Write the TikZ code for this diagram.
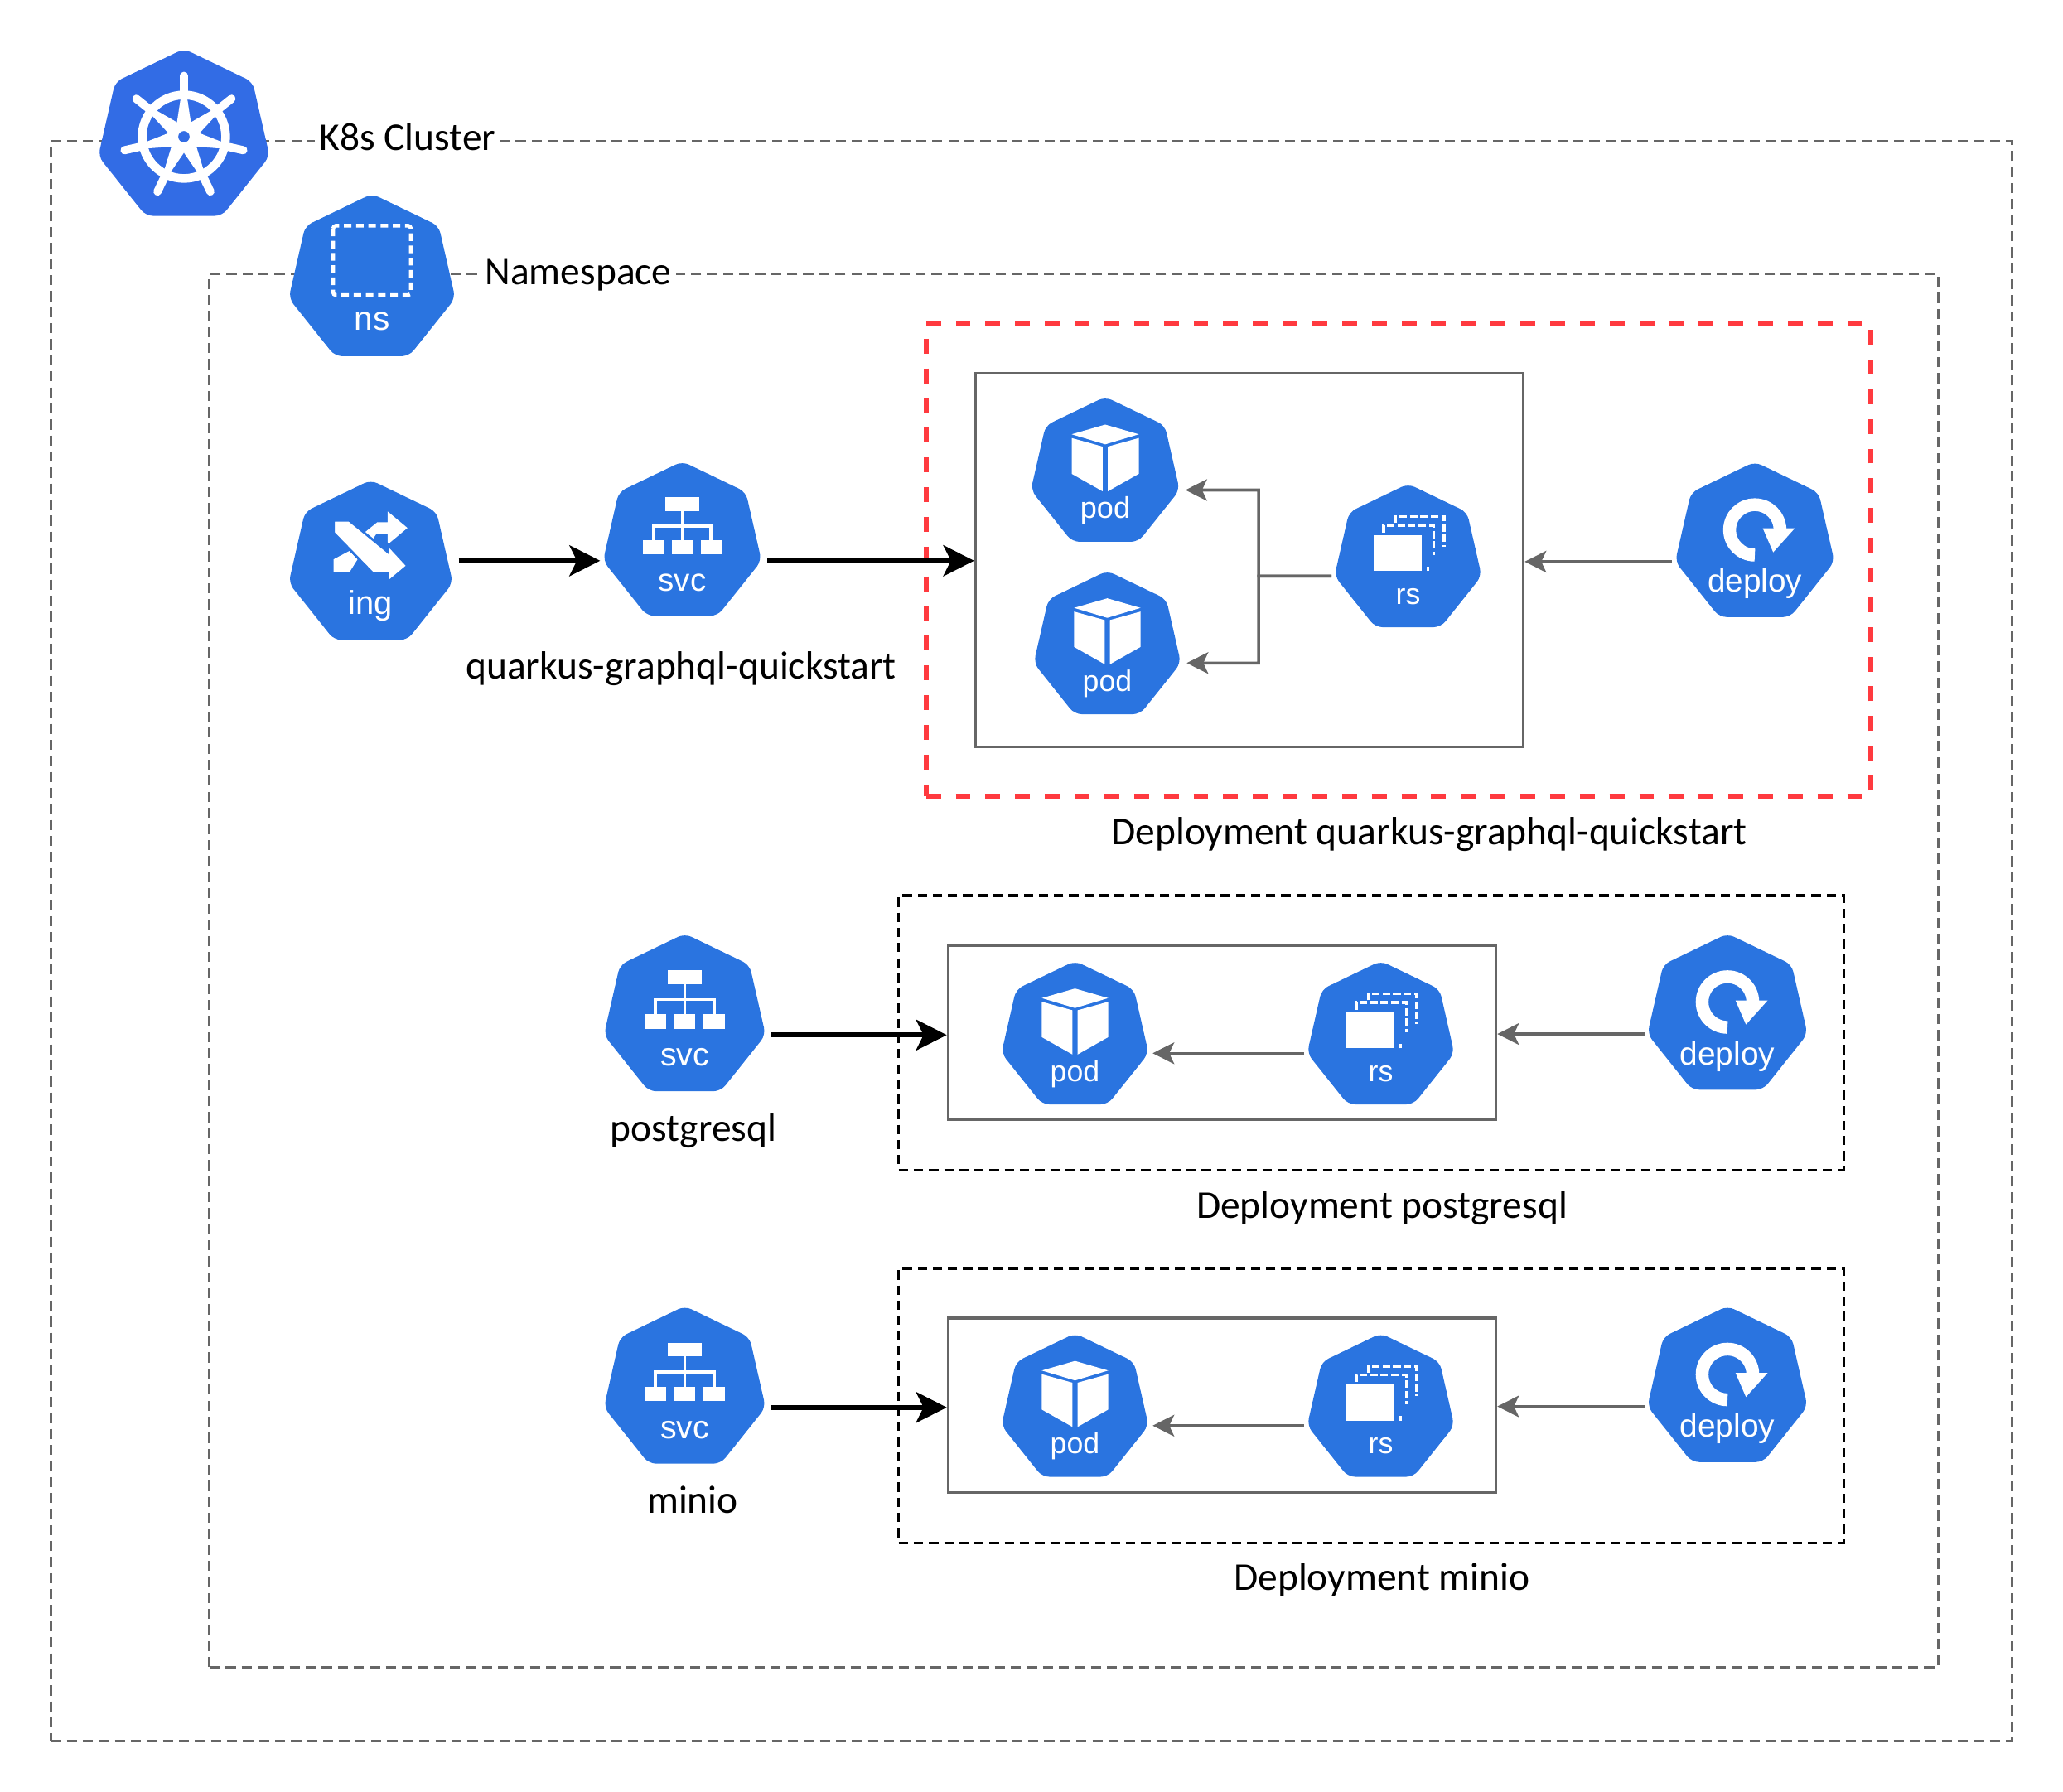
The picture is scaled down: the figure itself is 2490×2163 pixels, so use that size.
\documentclass[tikz,border=0pt]{standalone}
\usepackage{fontspec}
\setmainfont{Carlito}
\newfontfamily\iconfont{Liberation Sans}
\usetikzlibrary{arrows.meta,calc,shapes.geometric}
\definecolor{KubeBlue}{HTML}{2A74E0}
\definecolor{ClusterBlue}{HTML}{326CE5}
\definecolor{LineGray}{HTML}{666666}
\definecolor{AlertRed}{HTML}{FF3A3F}
\newcommand{\kubeicon}[5]{%
  \node[kube,minimum size=(#3+2)*0.02cm] (#1) at (#2) {};
  \pic[scale=#3/100] at (#1.center) {#4};
  \node[kubetext,scale=#3/100] (#1text) at ($(#1.center)+(0,0.61*#3)$) {#5};
}
\tikzset{
  kube/.style={regular polygon,regular polygon sides=7,fill=KubeBlue,inner sep=0pt,outer sep=0pt,rounded corners=2.5pt},
  kubetext/.style={transform shape,text=white,anchor=base,inner sep=0pt,font=\iconfont\fontsize{11.4}{13}\selectfont},
  handtext/.style={anchor=base,inner sep=1.5pt,font=\fontsize{13.5}{15}\selectfont},
  zone/.style={draw=LineGray,line width=0.8pt,dash pattern=on 3.5pt off 2pt,inner sep=0pt},
  deploybox/.style={draw=black,line width=0.9pt,dash pattern=on 3.2pt off 2pt,inner sep=0pt},
  redbox/.style={draw=AlertRed,line width=1.7pt,dash pattern=on 5.1pt off 5.1pt,inner sep=0pt},
  podbox/.style={draw=LineGray,line width=0.9pt,inner sep=0pt},
  bigarrow/.style={-{Stealth[length=3.7mm,width=3.7mm,inset=0.9mm]},line width=1.8pt,black},
  grayarrow/.style={-{Stealth[length=2.6mm,width=2.6mm,inset=0.6mm]},line width=1pt,LineGray,shorten <=1pt},
  wheelglyph/.pic={
    \draw[white,line width=3pt] (0,0) circle[radius=48];
    \foreach \a in {90,141.43,...,400}{
      \begin{scope}[rotate=\a]
        \fill[white] (10,-9) -- (46,-3.5) -- (46,3.5) -- (10,9) -- cycle;
        \draw[white,line width=2.8pt,line cap=round] (46,0) -- (70,0);
      \end{scope}
    }
    \fill[white] (0,0) circle[radius=16];
    \fill[ClusterBlue] (0,0) circle[radius=6.5];
  },
  nsglyph/.pic={
    \draw[white,line width=1.3pt,dash pattern=on 2.6pt off 1.6pt,rounded corners=1pt] (-46.5,-64) rectangle (46.5,19);
  },
  ingglyph/.pic={
    \fill[white] (20.5,-64) -- (44.5,-44) -- (20.5,-24) -- (20.5,-37) -- (7,-37) -- (0,-27) -- (-8,-38) -- (8,-51) -- (20.5,-51) -- cycle;
    \fill[white] (-45,-6) -- (-26,-16) -- (-16,-6) -- (-26,10) -- (-45,10) -- cycle;
    \filldraw[fill=white,draw=KubeBlue,line width=0.8pt] (-45,-53) -- (-26,-53) -- (20.5,-15) -- (20.5,-24) -- (44.5,2) -- (20.5,22) -- (20.5,11) -- (2.5,11) -- (-45,-38) -- cycle;
  },
  svcglyph/.pic={
    \fill[white] (-21,-57) rectangle (21,-40);
    \fill[white] (-49,-3) rectangle (-22.5,15);
    \fill[white] (-13,-3) rectangle (13,15);
    \fill[white] (23,-3) rectangle (49,15);
    \draw[white,line width=1pt] (0,-40) -- (0,-3) (-36,-3) -- (-36,-21) -- (36,-21) -- (36,-3);
  },
  podglyph/.pic={
    \fill[white] (0,-65) -- (-45,-52) -- (0,-38.5) -- (45,-52) -- cycle;
    \fill[white] (-45,-47) -- (-3.5,-35.5) -- (-3.5,24.5) -- (-45,1) -- cycle;
    \fill[white] (45,-47) -- (3.5,-35.5) -- (3.5,24.5) -- (45,1) -- cycle;
  },
  rsglyph/.pic={
    \fill[white] (-47,-33) rectangle (19,16);
    \draw[white,line width=1pt,dash pattern=on 2.6pt off 1pt] (-33,-36) -- (-33,-46) -- (35,-46) -- (35,-6) (27,16) -- (27,10);
    \draw[white,line width=1pt,dash pattern=on 2.6pt off 1pt] (-17,-49) -- (-17,-58) -- (49,-58) -- (49,-17);
  },
  deployglyph/.pic={
    \draw[white,line width=4.4pt] (0,14.5) arc[start angle=-90,end angle=-360,radius=0.315cm];
    \fill[white] (10,-19) -- (50,-19) -- (23,11) -- cycle;
  }
}
\begin{document}
\begin{tikzpicture}[x=0.01cm,y=-0.01cm]
\useasboundingbox (0,0) rectangle (2490,2163);
\node[zone,minimum width=23.66cm,minimum height=19.30cm] (cluster) at (1245,1136) {};
\node[zone,minimum width=20.85cm,minimum height=16.81cm] (namespace) at (1296,1171.5) {};
\node[redbox,minimum width=11.40cm,minimum height=5.70cm] (deployA) at (1688,676) {};
\node[deploybox,minimum width=11.40cm,minimum height=3.31cm] (deployB) at (1655,1246.5) {};
\node[deploybox,minimum width=11.40cm,minimum height=3.31cm] (deployC) at (1655,1696.5) {};
\node[podbox,minimum width=6.61cm,minimum height=4.50cm] (boxA) at (1508,676) {};
\node[podbox,minimum width=6.61cm,minimum height=2.10cm] (boxB) at (1475,1246) {};
\node[podbox,minimum width=6.61cm,minimum height=2.10cm] (boxC) at (1475,1696) {};
\node[handtext,fill=white] (clusterlabel) at (492,181) {K8s Cluster};
\node[handtext,fill=white] (nslabel) at (698,343) {Namespace};
\node[kube,minimum size=2.12cm,fill=ClusterBlue] (k8s) at (222,165) {};
\pic[scale=1.05] at (k8s.center) {wheelglyph};
\kubeicon{ns}{449,337}{101}{nsglyph}{ns}
\kubeicon{ing}{447.5,681}{99.5}{ingglyph}{ing}
\kubeicon{svcA}{823.5,655}{96}{svcglyph}{svc}
\kubeicon{svcB}{826.5,1227}{98}{svcglyph}{svc}
\kubeicon{svcC}{826.5,1676.5}{98}{svcglyph}{svc}
\kubeicon{podA}{1334,571}{90}{podglyph}{pod}
\kubeicon{podB}{1336.5,780}{89}{podglyph}{pod}
\kubeicon{podC}{1297.5,1251}{89}{podglyph}{pod}
\kubeicon{podD}{1297.5,1700.5}{89}{podglyph}{pod}
\kubeicon{rsA}{1699.5,675}{89}{rsglyph}{rs}
\kubeicon{rsB}{1666.5,1251}{89}{rsglyph}{rs}
\kubeicon{rsC}{1666.5,1700.5}{89}{rsglyph}{rs}
\kubeicon{depA}{2118,656}{96.5}{deployglyph}{deploy}
\kubeicon{depB}{2085,1226}{97}{deployglyph}{deploy}
\kubeicon{depC}{2085,1675.5}{97}{deployglyph}{deploy}
\node[handtext] (svcAlabel) at (822,819) {quarkus-graphql-quickstart};
\node[handtext] (svcBlabel) at (837,1377) {postgresql};
\node[handtext] (svcClabel) at (836,1826) {minio};
\node[handtext] (deployAlabel) at (1725,1019) {Deployment quarkus-graphql-quickstart};
\node[handtext] (deployBlabel) at (1668,1470) {Deployment postgresql};
\node[handtext] (deployClabel) at (1668,1919) {Deployment minio};
\coordinate (forkA) at (1519,695.25);
\draw[bigarrow,shorten <=2pt,shorten >=1pt] (ing.corner 6 |- svcA.corner 3) -- (svcA.corner 3);
\draw[bigarrow,shorten <=2pt] (svcA.corner 6) -- (boxA.west |- svcA.corner 6);
\draw[bigarrow,shorten <=2pt] (svcB.corner 6) -- (boxB.west |- svcB.corner 6);
\draw[bigarrow,shorten <=2pt] (svcC.corner 6) -- (boxC.west |- svcC.corner 6);
\draw[grayarrow,shorten >=2pt] (rsA.corner 3) -- (forkA) |- (podA.corner 6);
\draw[grayarrow,shorten >=2pt] (rsA.corner 3) -- (forkA) |- (podB.corner 6);
\draw[grayarrow,shorten >=1.4pt] (rsB.corner 3) -- (podC.corner 6);
\draw[grayarrow,shorten >=1.4pt] (rsC.corner 3) -- (podD.corner 6);
\draw[grayarrow] (depA.corner 3) -- (boxA.east |- depA.corner 3);
\draw[grayarrow] (depB.corner 3) -- (boxB.east |- depB.corner 3);
\draw[grayarrow] (depC.corner 3) -- (boxC.east |- depC.corner 3);
\end{tikzpicture}
\end{document}
